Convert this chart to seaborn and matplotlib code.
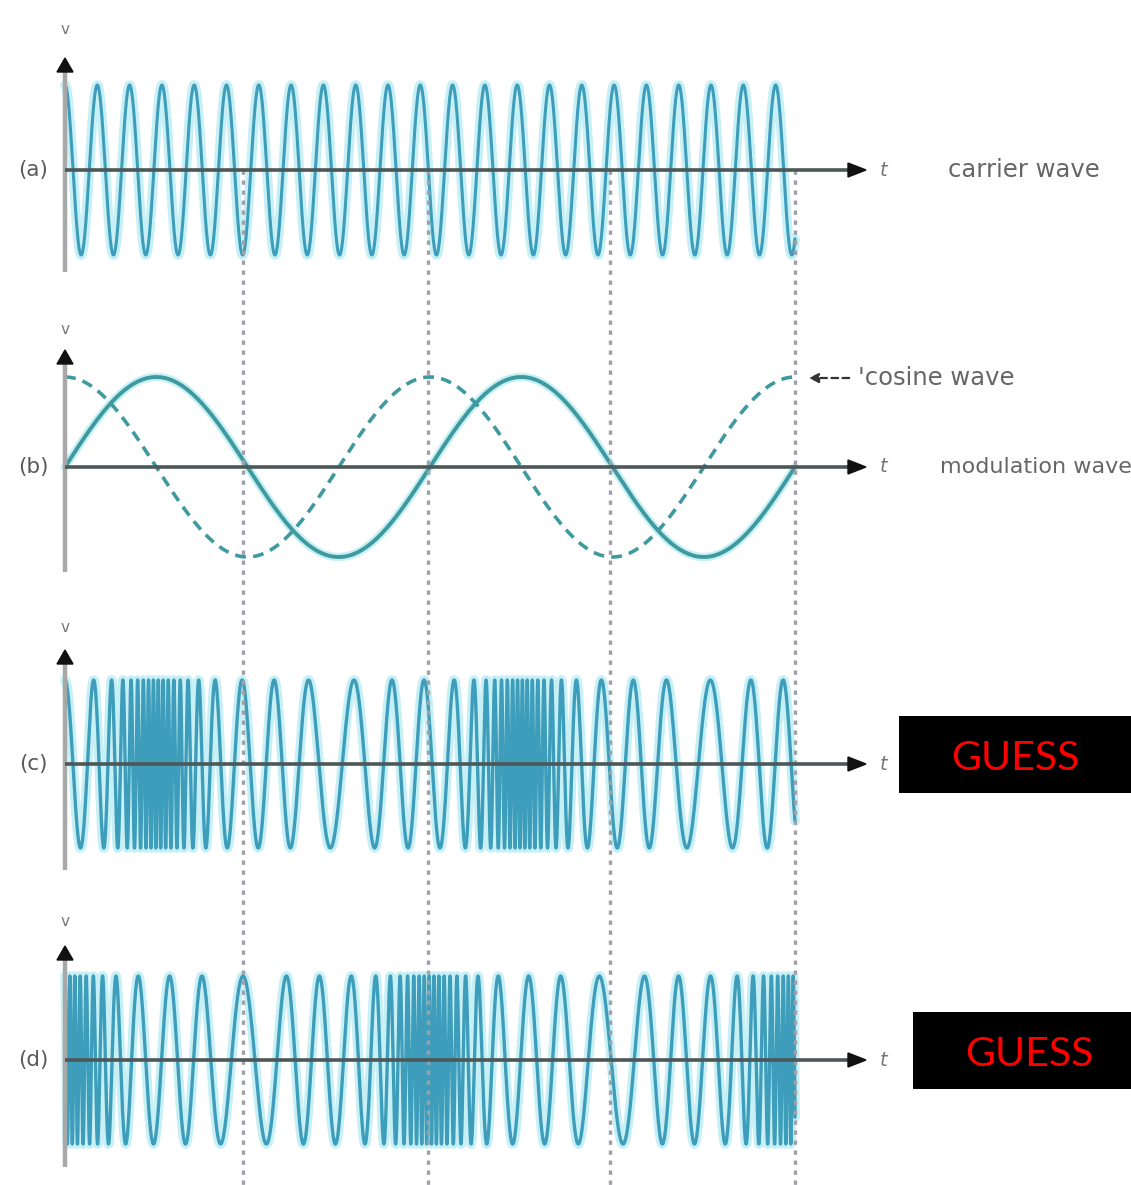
import numpy as np
import matplotlib
matplotlib.use('Agg')
import matplotlib.pyplot as plt
import seaborn as sns
from matplotlib.patches import Rectangle, Polygon

sns.set_style('white')
plt.rcParams['font.family'] = ['DejaVu Sans']

# ---------------- data ----------------
panel_labels = ['(a)', '(b)', '(c)', '(d)']
right_labels = ['carrier wave', 'modulation wave', None, None]
cosine_label = 'cosine wave'
guess_labels = [None, None, 'GUESS', 'GUESS']
carrier_cycles = 22.6            # carrier cycles over the drawn span (a)
modulation_cycles = 2.0          # modulating-wave cycles over the span (b)
base_cycles = 22.7               # unmodulated cycles over the span (c, d)
freq_shape = [0.10, 0.75, 1.05]  # log-frequency deviation: a*s + b*s^2 + c*s^3
guide_times = [0.244, 0.497, 0.747, 1.0]   # dotted vertical guides

# ---------------- layout (pixels) ----------------
W, H = 1131, 1185
X0, X1 = 65, 795
SPAN = X1 - X0
baselines = [170, 467, 764, 1060]
amps = [85, 90, 84, 84]
yaxis_top = [58, 350, 650, 946]
yaxis_bot = [272, 572, 870, 1167]
v_y = [30, 330, 628, 922]
right_x = [948, 940]
right_size = [17.5, 16]

WAVE = '#3d9dba'
GLOW = '#c6f0f5'
MOD = '#3e9a9e'
GREY_TXT = '#666666'

fig = plt.figure(figsize=(W / 100, H / 100), dpi=100)

N = 40000
t = np.linspace(0, 1, N)
dt = t[1] - t[0]


def fm_wave(s):
    a, b, c = freq_shape
    f = base_cycles * np.exp(a * s + b * s ** 2 + c * s ** 3)
    phi = 2 * np.pi * np.concatenate([[0], np.cumsum(f[:-1]) * dt])
    return np.cos(phi)


mod_sin = np.sin(2 * np.pi * modulation_cycles * t)
mod_cos = np.cos(2 * np.pi * modulation_cycles * t)
carrier = np.cos(2 * np.pi * carrier_cycles * t)
fm = fm_wave(mod_sin)
pm = fm_wave(mod_cos)


def wave_axes(i):
    ax = fig.add_axes([0, 0, 1, 1], facecolor='none')
    ax.set_xlim(-X0 / SPAN, (W - X0) / SPAN)
    ax.set_ylim((baselines[i] - H) / amps[i], baselines[i] / amps[i])
    ax.axis('off')
    return ax


# (a) carrier
ax = wave_axes(0)
sns.lineplot(x=t, y=carrier, ax=ax, estimator=None, sort=False, color=GLOW, lw=7)
sns.lineplot(x=t, y=carrier, ax=ax, estimator=None, sort=False, color=WAVE, lw=2.2)

# (b) modulation (sine) and cosine wave
ax = wave_axes(1)
sns.lineplot(x=t, y=mod_sin, ax=ax, estimator=None, sort=False, color=GLOW, lw=6)
sns.lineplot(x=t, y=mod_sin, ax=ax, estimator=None, sort=False, color=MOD, lw=2.8)
sns.lineplot(x=t, y=mod_cos, ax=ax, estimator=None, sort=False, color=MOD, lw=2.6,
             linestyle=(0, (3, 2)))

# (c) frequency modulated
ax = wave_axes(2)
sns.lineplot(x=t, y=fm, ax=ax, estimator=None, sort=False, color=GLOW, lw=7)
sns.lineplot(x=t, y=fm, ax=ax, estimator=None, sort=False, color=WAVE, lw=2.4)

# (d) phase modulated
ax = wave_axes(3)
sns.lineplot(x=t, y=pm, ax=ax, estimator=None, sort=False, color=GLOW, lw=7)
sns.lineplot(x=t, y=pm, ax=ax, estimator=None, sort=False, color=WAVE, lw=2.4)

# ---------------- overlay (pixel coordinates) ----------------
ov = fig.add_axes([0, 0, 1, 1], facecolor='none')
ov.set_xlim(0, W)
ov.set_ylim(H, 0)
ov.axis('off')

# dotted guide lines
for gt in guide_times:
    gx = X0 + gt * SPAN
    ov.plot([gx, gx], [baselines[0], H], color='#a0a0a8', lw=2.4,
            linestyle=(0, (1.3, 1.7)), zorder=5)

for i in range(4):
    b = baselines[i]
    # y axis
    ov.plot([X0, X0], [yaxis_top[i] + 10, yaxis_bot[i]], color='#a8a8a8', lw=3.2, zorder=6,
            solid_capstyle='butt')
    ov.add_patch(Polygon([[X0, yaxis_top[i]], [X0 - 8, yaxis_top[i] + 14],
                          [X0 + 8, yaxis_top[i] + 14]], closed=True, color='#111', zorder=7))
    ov.text(X0, v_y[i], 'v', ha='center', va='center', fontsize=11, color='#777', zorder=7)
    # x axis
    ov.plot([X0, 850], [b, b], color='#4d5757', lw=2.6, zorder=6, solid_capstyle='butt')
    ov.add_patch(Polygon([[866, b], [848, b - 7], [848, b + 7]], closed=True,
                         color='#111', zorder=7))
    ov.text(884, b, 't', ha='center', va='center', fontsize=14, style='italic',
            color='#777', zorder=7)
    # panel label
    ov.text(33, b, panel_labels[i], ha='center', va='center', fontsize=15.5,
            color='#5a5a5a', zorder=7)
    if right_labels[i]:
        ov.text(right_x[i], b, right_labels[i], ha='left', va='center',
                fontsize=right_size[i], color=GREY_TXT, zorder=7)

# cosine-wave pointer
ov.annotate('', xy=(806, 378), xytext=(852, 378),
            arrowprops=dict(arrowstyle='-|>', color='#333', lw=1.6, linestyle=(0, (3, 2)),
                            mutation_scale=14), zorder=7)
ov.text(858, 378, "'" + cosine_label, ha='left', va='center', fontsize=17.5,
        color=GREY_TXT, zorder=7)

# GUESS boxes
guess_boxes = {2: (899, 716, 232, 77, 1015, 759), 3: (913, 1012, 218, 77, 1029, 1055)}
for i, lab in enumerate(guess_labels):
    if lab:
        x, y, w, h, tx, ty = guess_boxes[i]
        ov.add_patch(Rectangle((x, y), w, h, facecolor='black', edgecolor='none', zorder=8))
        ov.text(tx, ty, lab, ha='center', va='center', fontsize=29.5, color='#ff0000',
                family=['Lato', 'DejaVu Sans'], zorder=9)

fig.savefig('out.png', dpi=100)
